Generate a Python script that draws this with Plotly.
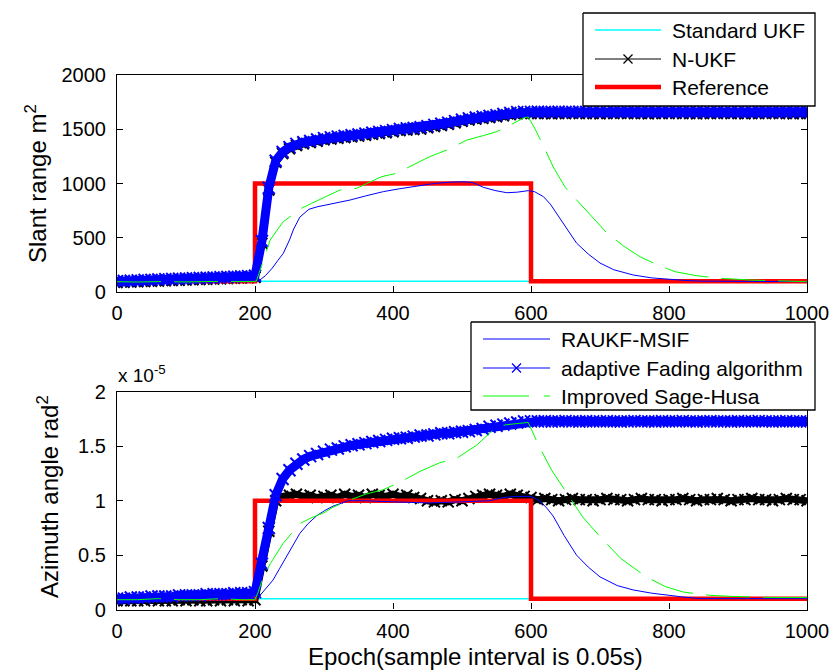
import plotly.graph_objects as go

# ---------------- data ----------------
W, H = 832, 671

# epochs sampled every 10 steps for the marker-band series
epoch = list(range(0, 1001, 10))

# Slant range (m^2)
top_af = [100, 102, 104, 107, 110, 112, 115, 117, 120, 122, 125, 127, 129, 131, 133, 136, 138, 140, 143, 146, 150,
          470, 960, 1210, 1290, 1335, 1365, 1380, 1392, 1405, 1418,
          1425, 1432, 1438, 1445, 1452, 1460, 1468, 1475, 1483, 1492,
          1502, 1508, 1512, 1518, 1528, 1540, 1550, 1560, 1575, 1588,
          1600, 1608, 1615, 1622, 1630, 1640, 1650, 1658, 1660, 1660,
          1661, 1659, 1660, 1662, 1660, 1659, 1661, 1660, 1662, 1660,
          1659, 1661, 1660, 1660, 1662, 1659, 1660, 1661, 1660, 1659,
          1662, 1660, 1661, 1659, 1660, 1660, 1662, 1659, 1661, 1660,
          1660, 1659, 1662, 1660, 1661, 1660, 1659, 1661, 1660, 1662]
top_nukf = [88, 90, 92, 94, 97, 99, 102, 104, 106, 108, 111, 113, 115, 117, 119, 121, 123, 126, 128, 131, 135,
            450, 940, 1195, 1275, 1320, 1350, 1365, 1377, 1390, 1403,
            1410, 1417, 1423, 1430, 1437, 1445, 1453, 1460, 1468, 1477,
            1487, 1493, 1497, 1503, 1513, 1525, 1535, 1545, 1560, 1573,
            1585, 1593, 1600, 1607, 1615, 1625, 1635, 1643, 1645, 1645,
            1644, 1645, 1643, 1645, 1644, 1646, 1645, 1644, 1645, 1643,
            1645, 1644, 1646, 1645, 1644, 1645, 1643, 1645, 1644, 1645,
            1646, 1644, 1645, 1643, 1645, 1644, 1645, 1646, 1644, 1645,
            1643, 1645, 1644, 1645, 1646, 1644, 1645, 1643, 1645, 1644]
top_rauk_epoch = [0, 100, 200, 205, 215, 225, 233, 241, 250, 256, 265, 278, 290, 304, 320, 338, 360, 386, 410,
                  434, 460, 482, 500, 515, 531, 548, 565, 580, 596, 605, 618, 628, 637, 650, 666, 683, 700,
                  720, 748, 775, 797, 820, 845, 900, 950, 1000]
top_rauk = [95, 95, 95, 100, 150, 220, 290, 356, 480, 580, 690, 762, 785, 802, 825, 848, 885, 925, 952,
            977, 1000, 1012, 1016, 1010, 965, 935, 915, 920, 934, 925, 879, 810, 727, 600, 451, 350, 267,
            205, 157, 130, 117, 108, 100, 96, 95, 95]
top_sage_epoch = [0, 30, 60, 100, 140, 170, 200, 202, 212, 222, 232, 241, 252, 265, 282, 300, 323, 347, 365,
                  383, 405, 430, 453, 478, 507, 530, 550, 570, 589, 596, 606, 620, 632, 650, 673, 690, 710,
                  735, 758, 785, 809, 840, 874, 920, 960, 1000]
top_sage = [95, 92, 96, 93, 97, 94, 96, 100, 295, 479, 570, 648, 700, 764, 817, 870, 940, 955, 1010,
            1062, 1094, 1170, 1247, 1309, 1400, 1440, 1477, 1539, 1603, 1613, 1502, 1320, 1155, 960, 802,
            680, 544, 420, 325, 245, 187, 150, 126, 110, 100, 95]

# Azimuth angle (x 1e-5 rad^2)
bot_af = [0.10, 0.10, 0.11, 0.11, 0.11, 0.12, 0.12, 0.12, 0.12, 0.13, 0.13, 0.13, 0.13, 0.14, 0.14, 0.14, 0.14,
          0.15, 0.15, 0.15, 0.16,
          0.42, 0.75, 1.05, 1.20, 1.28, 1.34, 1.38, 1.41, 1.43, 1.45,
          1.47, 1.48, 1.50, 1.51, 1.52, 1.53, 1.54, 1.55, 1.56, 1.57,
          1.575, 1.58, 1.59, 1.60, 1.60, 1.61, 1.62, 1.62, 1.63, 1.635,
          1.64, 1.65, 1.66, 1.68, 1.69, 1.70, 1.71, 1.72, 1.73, 1.73,
          1.73, 1.731, 1.729, 1.73, 1.732, 1.73, 1.729, 1.731, 1.73, 1.73,
          1.731, 1.73, 1.729, 1.73, 1.732, 1.73, 1.73, 1.729, 1.731, 1.73,
          1.73, 1.732, 1.73, 1.729, 1.73, 1.731, 1.73, 1.73, 1.729, 1.731,
          1.73, 1.73, 1.732, 1.73, 1.729, 1.73, 1.731, 1.73, 1.73, 1.729]
bot_nukf = [0.08, 0.08, 0.08, 0.08, 0.08, 0.09, 0.08, 0.08, 0.08, 0.09, 0.08, 0.09, 0.08, 0.08, 0.09, 0.08, 0.09,
            0.08, 0.09, 0.08, 0.09,
            0.40, 0.72, 1.00, 1.04, 1.05, 1.06, 1.04, 1.05, 1.03, 1.04,
            1.05, 1.03, 1.06, 1.04, 1.05, 1.03, 1.06, 1.05, 1.04, 1.06,
            1.04, 1.05, 1.03, 1.02, 1.00, 0.99, 1.00, 0.99, 1.01, 1.00,
            1.02, 1.04, 1.05, 1.06, 1.05, 1.04, 1.06, 1.05, 1.04, 1.03,
            1.01, 1.02, 1.01, 1.00, 1.01, 1.02, 1.01, 1.01, 1.00, 1.01,
            1.02, 1.01, 1.01, 1.00, 1.01, 1.02, 1.01, 1.01, 1.00, 1.01,
            1.01, 1.02, 1.01, 1.00, 1.01, 1.01, 1.02, 1.01, 1.00, 1.01,
            1.01, 1.02, 1.01, 1.01, 1.00, 1.01, 1.02, 1.01, 1.01, 1.00]
bot_rauk_epoch = [0, 100, 200, 206, 216, 226, 236, 246, 256, 265, 277, 289, 301, 313, 335, 360, 400, 450,
                  500, 540, 560, 580, 600, 612, 622, 632, 648, 666, 683, 700, 725, 748, 775, 797, 820, 845,
                  900, 1000]
bot_rauk = [0.10, 0.10, 0.10, 0.12, 0.19, 0.27, 0.38, 0.49, 0.60, 0.70, 0.79, 0.86, 0.91, 0.95, 1.00, 1.00,
            0.99, 0.98, 0.99, 1.00, 1.03, 1.04, 1.04, 1.00, 0.94, 0.86, 0.68, 0.50, 0.39, 0.30, 0.22, 0.18,
            0.15, 0.13, 0.115, 0.10, 0.10, 0.10]
bot_sage_epoch = [0, 30, 60, 90, 120, 150, 180, 200, 204, 212, 222, 232, 241, 253, 265, 284, 300, 313, 335,
                  360, 385, 410, 439, 468, 492, 521, 550, 565, 579, 596, 611, 630, 652, 675, 700, 730, 767,
                  795, 821, 860, 893, 950, 1000]
bot_sage = [0.09, 0.09, 0.10, 0.09, 0.09, 0.10, 0.09, 0.09, 0.15, 0.30, 0.42, 0.52, 0.61, 0.70, 0.79, 0.85,
            0.89, 0.94, 1.00, 1.06, 1.10, 1.17, 1.27, 1.35, 1.39, 1.51, 1.68, 1.70, 1.71, 1.72, 1.51, 1.28,
            1.07, 0.85, 0.67, 0.47, 0.30, 0.21, 0.16, 0.13, 0.12, 0.11, 0.11]

ref_epoch = [0, 200, 200, 600, 600, 1000]
ref_top = [100, 100, 1000, 1000, 100, 100]
ref_bot = [0.1, 0.1, 1.0, 1.0, 0.1, 0.1]
ukf_epoch = [0, 1000]
ukf_top = [100, 100]
ukf_bot = [0.1, 0.1]

x_ticks = [0, 200, 400, 600, 800, 1000]
top_ticks = [0, 500, 1000, 1500, 2000]
bot_ticks = [0, 0.5, 1, 1.5, 2]
bot_tick_text = ["0", "0.5", "1", "1.5", "2"]

names = ["Standard UKF", "N-UKF", "Reference", "RAUKF-MSIF", "adaptive Fading algorithm", "Improved Sage-Husa"]

# ---------------- styling ----------------
FONT = "Arial, 'Liberation Sans', sans-serif"
CYAN, BLACK, RED, BLUE, GREEN = "#00FFFF", "#000000", "#FF0000", "#0000FF", "#00FF00"
SAGE_DASH = "44px,13px"

# plot boxes in pixels
PL, PR = 117, 807
TT, TB = 75, 292
BT, BB = 392, 609.5

fig = go.Figure()


def add_panel(xa, ya, ukf, nukf, ref, rauk_e, rauk, af, sage_e, sage):
    fig.add_trace(go.Scatter(x=ukf_epoch, y=ukf, mode="lines", line=dict(color=CYAN, width=1.5),
                             xaxis=xa, yaxis=ya))
    fig.add_trace(go.Scatter(x=epoch, y=nukf, mode="lines+markers", line=dict(color=BLACK, width=7),
                             marker=dict(symbol="x-thin", size=11, line=dict(color=BLACK, width=2)),
                             xaxis=xa, yaxis=ya))
    fig.add_trace(go.Scatter(x=ref_epoch, y=ref, mode="lines", line=dict(color=RED, width=4.5),
                             xaxis=xa, yaxis=ya))
    fig.add_trace(go.Scatter(x=rauk_e, y=rauk, mode="lines", line=dict(color=BLUE, width=1),
                             xaxis=xa, yaxis=ya))
    fig.add_trace(go.Scatter(x=epoch, y=af, mode="lines+markers", line=dict(color=BLUE, width=9),
                             marker=dict(symbol="x-thin", size=12, line=dict(color=BLUE, width=2)),
                             xaxis=xa, yaxis=ya))
    fig.add_trace(go.Scatter(x=sage_e, y=sage, mode="lines", line=dict(color=GREEN, width=1, dash=SAGE_DASH),
                             xaxis=xa, yaxis=ya))


add_panel("x", "y", ukf_top, top_nukf, ref_top, top_rauk_epoch, top_rauk, top_af, top_sage_epoch, top_sage)
add_panel("x2", "y2", ukf_bot, bot_nukf, ref_bot, bot_rauk_epoch, bot_rauk, bot_af, bot_sage_epoch, bot_sage)

# ---------------- legends (pixel overlay) ----------------
def legend_box(x0, y0, x1, y1):
    fig.add_trace(go.Scatter(x=[x0, x1, x1, x0, x0], y=[y0, y0, y1, y1, y0], mode="lines", fill="toself",
                             fillcolor="white", line=dict(color=BLACK, width=1.3), xaxis="x3", yaxis="y3"))


def legend_item(x0, x1, y, style, text, marker=None):
    fig.add_trace(go.Scatter(x=[x0, x1], y=[y, y], mode="lines", line=style, xaxis="x3", yaxis="y3"))
    if marker is not None:
        fig.add_trace(go.Scatter(x=[(x0 + x1) / 2], y=[y], mode="markers",
                                 marker=dict(symbol="x-thin", size=9, line=dict(color=marker, width=1.3)),
                                 xaxis="x3", yaxis="y3"))
    fig.add_annotation(x=x1 + 9, y=y, xref="x3", yref="y3", text=text, showarrow=False,
                       xanchor="left", yanchor="middle", font=dict(family=FONT, size=21, color=BLACK))


legend_box(583, 13, 815, 106)
legend_item(595, 661, 30, dict(color=CYAN, width=1.5), names[0])
legend_item(595, 661, 59, dict(color=BLACK, width=1), names[1], marker=BLACK)
legend_item(595, 661, 87, dict(color=RED, width=4.5), names[2])

legend_box(471, 322, 815, 410)
legend_item(483, 550, 339, dict(color=BLUE, width=1), names[3])
legend_item(483, 550, 368, dict(color=BLUE, width=1), names[4], marker=BLUE)
legend_item(483, 550, 396, dict(color=GREEN, width=1, dash="46px,15px,6px,15px"), names[5])

# ---------------- axes ----------------
axis_common = dict(showline=True, linecolor=BLACK, linewidth=1.2, mirror="ticks", ticks="inside",
                   ticklen=6, tickwidth=1, tickcolor=BLACK, showgrid=False, zeroline=False,
                   automargin=False, tickfont=dict(family=FONT, size=20, color=BLACK))
overlay_axis = dict(domain=[0, 1], visible=False, fixedrange=True, automargin=False)

fig.update_layout(
    width=W, height=H, autosize=False,
    margin=dict(l=0, r=0, t=0, b=0, pad=0, autoexpand=False),
    paper_bgcolor="white", plot_bgcolor="rgba(0,0,0,0)", showlegend=False,
    xaxis=dict(domain=[PL / W, PR / W], range=[0, 1000], tickvals=x_ticks, anchor="y",
               ticklabelstandoff=3, **axis_common),
    yaxis=dict(domain=[1 - TB / H, 1 - TT / H], range=[0, 2000], tickvals=top_ticks, anchor="x",
               ticklabelstandoff=6, **axis_common),
    xaxis2=dict(domain=[PL / W, PR / W], range=[0, 1000], tickvals=x_ticks, anchor="y2",
                ticklabelstandoff=3, **axis_common),
    yaxis2=dict(domain=[1 - BB / H, 1 - BT / H], range=[0, 2], tickvals=bot_ticks, ticktext=bot_tick_text,
                anchor="x2", ticklabelstandoff=6, **axis_common),
    xaxis3=dict(range=[0, W], anchor="y3", **overlay_axis),
    yaxis3=dict(range=[H, 0], anchor="x3", **overlay_axis),
)

# axis titles and exponent note
fig.add_annotation(x=36 / W, y=1 - 184 / H, xref="paper", yref="paper", text="Slant range m<sup>2</sup>",
                   textangle=-90, showarrow=False, xanchor="center", yanchor="middle",
                   font=dict(family=FONT, size=24, color=BLACK))
fig.add_annotation(x=48 / W, y=1 - 497 / H, xref="paper", yref="paper", text="Azimuth angle rad<sup>2</sup>",
                   textangle=-90, showarrow=False, xanchor="center", yanchor="middle",
                   font=dict(family=FONT, size=24, color=BLACK))
fig.add_annotation(x=475 / W, y=1 - 656 / H, xref="paper", yref="paper",
                   text="Epoch(sample interval is 0.05s)", showarrow=False, xanchor="center", yanchor="middle",
                   font=dict(family=FONT, size=24, color=BLACK))
fig.add_annotation(x=116 / W, y=1 - 374 / H, xref="paper", yref="paper", text="x 10<sup>-5</sup>",
                   showarrow=False, xanchor="left", yanchor="middle",
                   font=dict(family=FONT, size=19, color=BLACK))

# keep the page exactly the size of the figure
page_css = ("document.documentElement.style.margin='0';document.body.style.margin='0';"
            "document.body.style.overflow='hidden';")
fig.write_html("out.html", post_script=page_css)
